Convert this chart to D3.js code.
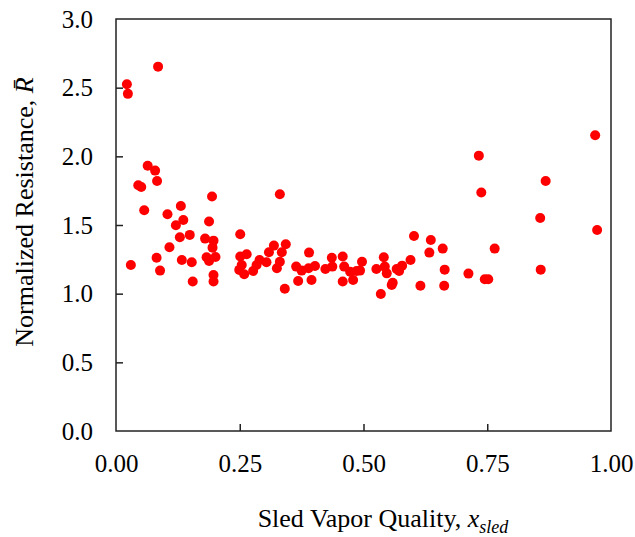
<!DOCTYPE html>
<html>
<head>
<meta charset="utf-8">
<script src="https://cdn.jsdelivr.net/npm/d3@7"></script>
<style>
  body { margin: 0; background: #fff; }
  text { font-family: "Liberation Serif", "Times New Roman", serif; fill: #000; }
</style>
</head>
<body>
<div id="chart"></div>
<script>
// sled vapor quality (x) and normalized resistance (y)
const quality = [
  0.022, 0.024, 0.085, 0.064, 0.079, 0.045, 0.051, 0.083, 0.194, 0.331,
  0.057, 0.104, 0.131, 0.136, 0.188, 0.121, 0.129, 0.149, 0.180, 0.197,
  0.195, 0.108, 0.251, 0.030, 0.082, 0.089, 0.133, 0.153, 0.155, 0.183,
  0.188, 0.201, 0.197, 0.197, 0.251, 0.264, 0.249, 0.254, 0.259, 0.277,
  0.284, 0.290, 0.304, 0.309, 0.319, 0.335, 0.343, 0.331, 0.325, 0.341,
  0.364, 0.375, 0.368, 0.390, 0.389, 0.402, 0.395, 0.423, 0.436, 0.437,
  0.458, 0.461, 0.458, 0.473, 0.486, 0.479, 0.497, 0.493, 0.526, 0.541,
  0.535, 0.547, 0.543, 0.557, 0.559, 0.567, 0.572, 0.578, 0.595, 0.602,
  0.615, 0.636, 0.633, 0.660, 0.664, 0.663, 0.712, 0.733, 0.738, 0.745,
  0.752, 0.765, 0.857, 0.858, 0.868, 0.968, 0.972
];
const resistance = [
  2.525, 2.455, 2.653, 1.932, 1.896, 1.789, 1.777, 1.821, 1.707, 1.724,
  1.607, 1.578, 1.639, 1.537, 1.525, 1.498, 1.411, 1.428, 1.401, 1.386,
  1.335, 1.338, 1.433, 1.209, 1.262, 1.168, 1.245, 1.229, 1.088, 1.265,
  1.238, 1.267, 1.136, 1.088, 1.270, 1.287, 1.173, 1.209, 1.141, 1.165,
  1.209, 1.245, 1.229, 1.302, 1.350, 1.302, 1.360, 1.233, 1.185, 1.036,
  1.197, 1.168, 1.092, 1.299, 1.185, 1.202, 1.100, 1.180, 1.262, 1.197,
  1.270, 1.197, 1.088, 1.160, 1.165, 1.100, 1.233, 1.168, 1.180, 1.265,
  0.998, 1.148, 1.197, 1.063, 1.080, 1.180, 1.165, 1.204, 1.245, 1.420,
  1.058, 1.391, 1.299, 1.328, 1.175, 1.058, 1.146, 2.005, 1.736, 1.105,
  1.105, 1.328, 1.551, 1.175, 1.821, 2.154, 1.464
];
const xTicks = [0, 0.25, 0.5, 0.75, 1.0];
const yTicks = [0, 0.5, 1.0, 1.5, 2.0, 2.5, 3.0];

const W = 635, H = 537;
const margin = { top: 19, right: 24, bottom: 106, left: 116 };
const width = W - margin.left - margin.right,
  height = H - margin.top - margin.bottom;

const svg = d3.select("#chart").append("svg")
  .attr("width", W)
  .attr("height", H);

const g = svg.append("g")
  .attr("transform", `translate(${margin.left},${margin.top})`);

const x = d3.scaleLinear().domain([0, 1]).range([0, width]);
const y = d3.scaleLinear().domain([0, 3]).range([height, 0]);

// points
const data = quality.map((q, i) => ({ q, r: resistance[i] }));
g.selectAll("circle.pt")
  .data(data)
  .enter()
  .append("circle")
  .attr("class", "pt")
  .attr("cx", (d) => x(d.q))
  .attr("cy", (d) => y(d.r))
  .attr("r", 5)
  .attr("fill", "#ff0000");

// axes with inward ticks
const xAxis = g.append("g")
  .attr("transform", `translate(0,${height})`)
  .call(d3.axisBottom(x).tickValues(xTicks).tickSizeInner(-7).tickSizeOuter(0)
    .tickPadding(23).tickFormat(d3.format(".2f")));
const yAxis = g.append("g")
  .call(d3.axisLeft(y).tickValues(yTicks).tickSizeInner(-7).tickSizeOuter(0)
    .tickPadding(23).tickFormat(d3.format(".1f")));

[xAxis, yAxis].forEach((a) => {
  a.select(".domain").remove();
  a.selectAll("line").attr("stroke", "#222").attr("stroke-width", 1.5);
  a.selectAll("text").attr("font-size", 25)
    .attr("font-family", "Liberation Serif, Times New Roman, serif");
});
xAxis.selectAll("line").filter((d) => d === 0 || d === 1).remove();
yAxis.selectAll("line").filter((d) => d === 0 || d === 3).remove();

// frame
g.append("rect")
  .attr("x", 0).attr("y", 0)
  .attr("width", width).attr("height", height)
  .attr("fill", "none")
  .attr("stroke", "#222")
  .attr("stroke-width", 1.5);

// x title
const xt = svg.append("text")
  .attr("x", 383)
  .attr("y", 527)
  .attr("text-anchor", "middle")
  .attr("font-size", 26);
xt.append("tspan").text("Sled Vapor Quality, ");
xt.append("tspan").attr("font-style", "italic").text("x");
xt.append("tspan").attr("font-style", "italic").attr("font-size", 18)
  .attr("dy", 6).text("sled");

// y title
const yt = svg.append("text")
  .attr("transform", "translate(33,212) rotate(-90)")
  .attr("text-anchor", "middle")
  .attr("font-size", 26);
yt.append("tspan").text("Normalized Resistance, ");
yt.append("tspan").attr("font-style", "italic").text("R\u0304");
</script>
</body>
</html>
